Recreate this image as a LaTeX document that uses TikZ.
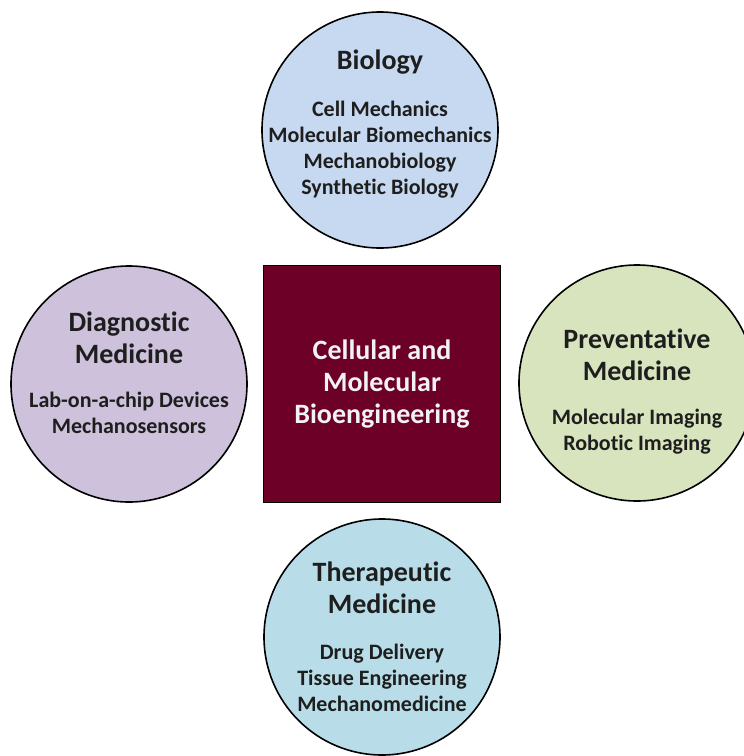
\documentclass[tikz,border=0pt]{standalone}
\usepackage{fontspec}
\setmainfont{Carlito}[Ligatures=NoCommon]
\usetikzlibrary{positioning}

\definecolor{biofill}{RGB}{198,217,240}
\definecolor{diagfill}{RGB}{205,193,219}
\definecolor{prevfill}{RGB}{216,228,190}
\definecolor{therfill}{RGB}{184,221,232}
\definecolor{hubfill}{RGB}{108,0,38}
\definecolor{ink}{RGB}{30,30,30}

\begin{document}
\begin{tikzpicture}[
    x=1pt, y=-1pt,
    area/.style   = {circle, draw=black, line width=1.6pt, minimum size=236pt, inner sep=0pt},
    hub/.style    = {rectangle, draw=black, line width=1.6pt, fill=hubfill, minimum size=237pt, inner sep=0pt},
    heading/.style = {align=center, text=ink, font=\fontsize{28}{32}\selectfont\bfseries},
    topics/.style  = {align=center, text=ink, font=\fontsize{22}{26}\selectfont\bfseries},
]

\useasboundingbox (0,0) rectangle (744,756);
\clip (0,0) rectangle (744,756);

% central square
\node[hub] (hub) at (382,384) {};
\node[heading, text=white!95!black] (hubtxt) at (hub.center) {Cellular and\\Molecular\\Bioengineering};

% biology, top
\node[area, fill=biofill] (bio) at (380,130) {};
\node[heading] (biohead) at (380,62) {Biology};
\node[topics] (biotop) at (380,150) {Cell Mechanics\\Molecular Biomechanics\\Mechanobiology\\Synthetic Biology};

% diagnostic medicine, left
\node[area, fill=diagfill] (diag) at (129,384) {};
\node[heading] (diaghead) at (129,338) {Diagnostic\\Medicine};
\node[topics] (diagtop) at (129,413) {Lab-on-a-chip Devices\\Mechanosensors};

% preventative medicine, right
\node[area, fill=prevfill] (prev) at (637,383) {};
\node[heading] (prevhead) at (637,355) {Preventative\\Medicine};
\node[topics] (prevtop) at (637,432) {Molecular Imaging\\Robotic Imaging};

% therapeutic medicine, bottom
\node[area, fill=therfill] (ther) at (382,637) {};
\node[heading] (therhead) at (382,588) {Therapeutic\\Medicine};
\node[topics] (thertop) at (382,678) {Drug Delivery\\Tissue Engineering\\Mechanomedicine};

\end{tikzpicture}
\end{document}
